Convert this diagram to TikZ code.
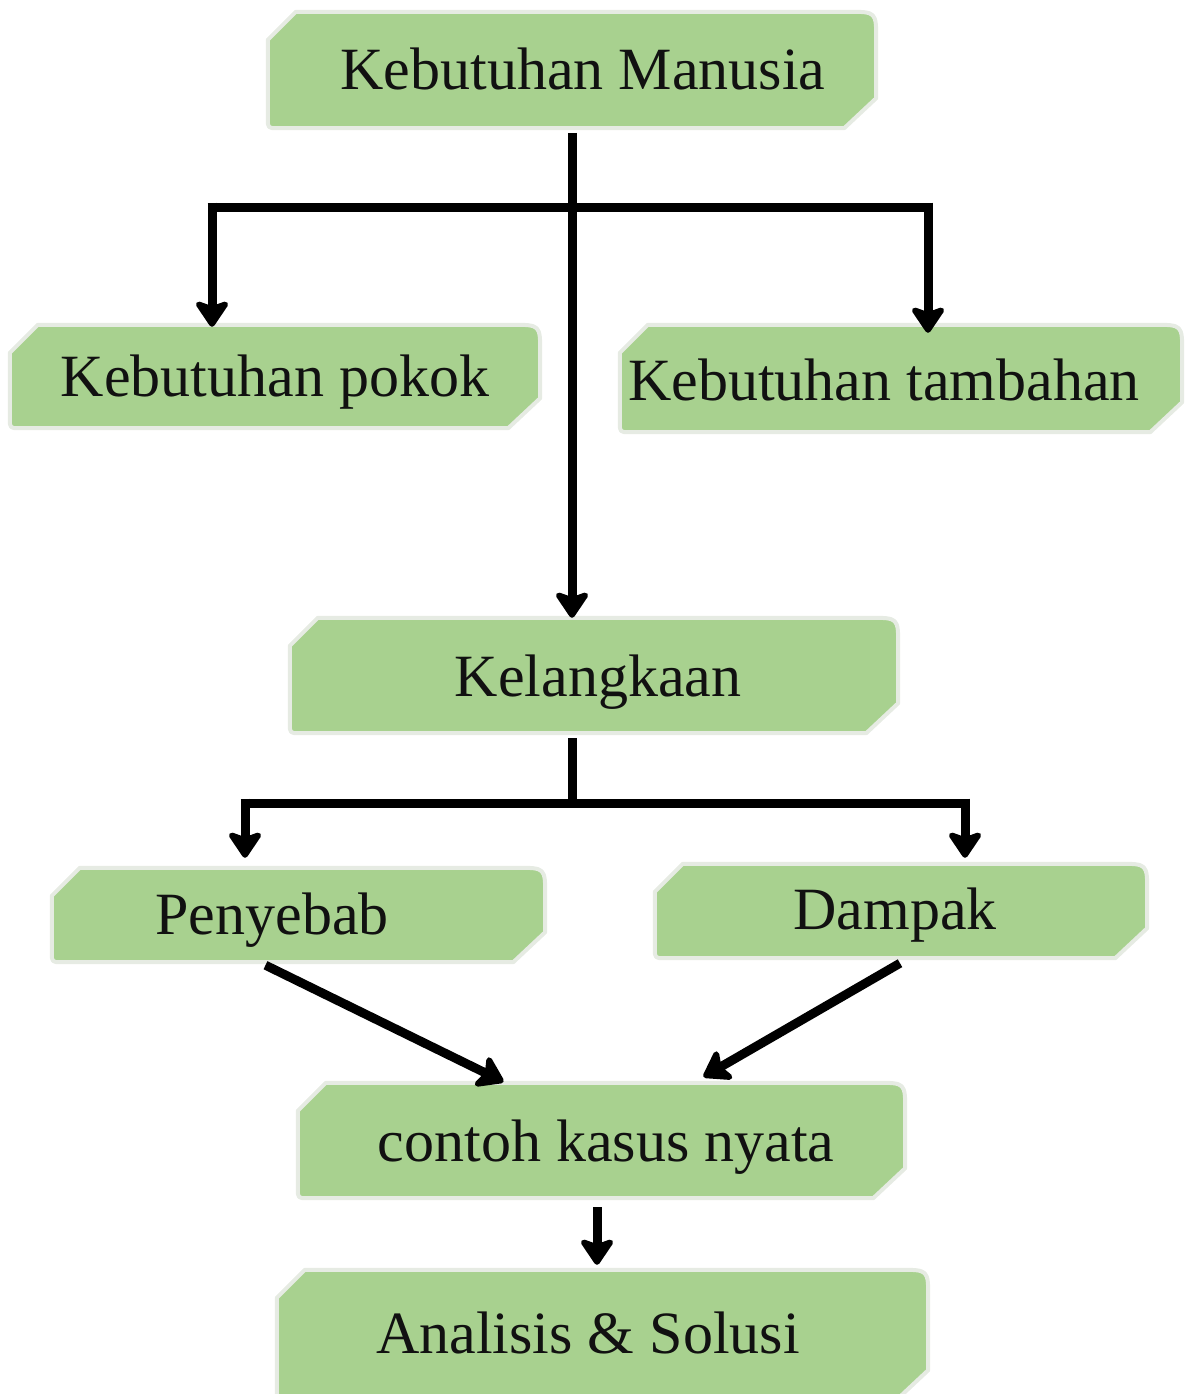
\documentclass[tikz,border=0pt]{standalone}
\usepackage{fontspec}
\setmainfont{Liberation Serif}
\usetikzlibrary{arrows.meta,calc}
\definecolor{boxgreen}{HTML}{A8D18F}
\definecolor{boxedge}{HTML}{E6EBE3}
\definecolor{inkc}{HTML}{111111}
\tikzset{
  gboxn/.style={draw=none, fill=none, inner sep=0pt},
  tx/.style={font=\fontsize{60}{72}\selectfont, text=inkc, inner sep=0pt, anchor=base},
  arr/.style={line width=9pt, draw=black, -{Stealth[length=30pt,width=40pt,inset=7pt,round]}},
  ln/.style={line width=9pt, draw=black},
  boxline/.style={fill=boxgreen, draw=boxedge, line width=4pt, line join=round}
}
\newcommand\gbox[1]{%
  \filldraw[boxline] ([yshift=-28pt]#1.north west) -- ([xshift=28pt]#1.north west)
    -- ([xshift=-28pt]#1.north east) .. controls (#1.north east) .. ([yshift=-28pt]#1.north east)
    -- ([yshift=30pt]#1.south east) -- ([xshift=-32pt]#1.south east)
    -- ([xshift=10pt]#1.south west) .. controls (#1.south west) .. ([yshift=10pt]#1.south west)
    -- cycle;}
\begin{document}
\begin{tikzpicture}[x=1pt,y=-1pt]
\useasboundingbox (0,0) rectangle (1184,1394);
% boxes
\node[gboxn, minimum width=608pt, minimum height=116pt] (km) at (572,70) {};
\node[gboxn, minimum width=530pt, minimum height=103pt] (kp) at (275,376.5) {};
\node[gboxn, minimum width=562pt, minimum height=107pt] (kt) at (901,378.5) {};
\node[gboxn, minimum width=608pt, minimum height=115pt] (kl) at (594,675.5) {};
\node[gboxn, minimum width=493pt, minimum height=94pt] (pe) at (298.5,915) {};
\node[gboxn, minimum width=492pt, minimum height=94pt] (dp) at (901,911) {};
\node[gboxn, minimum width=607pt, minimum height=115pt] (ck) at (601.5,1140.5) {};
\node[gboxn, minimum width=651pt, minimum height=130pt] (an) at (602.5,1335) {};
\gbox{km}\gbox{kp}\gbox{kt}\gbox{kl}\gbox{pe}\gbox{dp}\gbox{ck}\gbox{an}
% texts
\node[tx] (kmt) at (583,90) {Kebutuhan Manusia};
\node[tx] (kpt) at (275,396) {Kebutuhan pokok};
\node[tx] (ktt) at (884,400) {Kebutuhan tambahan};
\node[tx] (klt) at (598,696) {Kelangkaan};
\node[tx] (pet) at (272,934) {Penyebab};
\node[tx] (dpt) at (895,929) {Dampak};
\node[tx] (ckt) at (606,1161) {contoh kasus nyata};
\node[tx] (ant) at (588,1353) {Analisis \& Solusi};
% connectors top
\coordinate (t0) at (572,133);
\coordinate (tl) at (212,207);
\coordinate (tr) at (928,207);
\draw[arr] (t0) -- (t0 |- kl.north);
\draw[ln] ([xshift=-4.5pt]tl) -- ([xshift=4.5pt]tr);
\draw[arr] ([yshift=4.5pt]tl) -- ([yshift=-2pt]tl |- kp.north);
\draw[arr] ([yshift=4.5pt]tr) -- ([yshift=-8pt]tr |- kt.north);
% connectors middle
\coordinate (m0) at (572,738);
\coordinate (ml) at (245,803);
\coordinate (mr) at (965,803);
\draw[ln] (m0) -- (m0 |- ml);
\draw[ln] ([xshift=-4.5pt]ml) -- ([xshift=4.5pt]mr);
\draw[arr] ([yshift=4.5pt]ml) -- ([yshift=10pt]ml |- pe.north);
\draw[arr] ([yshift=4.5pt]mr) -- ([yshift=6pt]mr |- dp.north);
% diagonals
\draw[arr] ([xshift=-33pt,yshift=-3pt]pe.south) -- ([xshift=-98pt,yshift=1pt]ck.north);
\draw[arr] ([xshift=-1pt,yshift=-5pt]dp.south) -- ([xshift=102pt,yshift=6pt]ck.north);
% bottom
\coordinate (b0) at (597,1207);
\draw[arr] (b0) -- ([yshift=5pt]b0 |- an.north);
\end{tikzpicture}
\end{document}
